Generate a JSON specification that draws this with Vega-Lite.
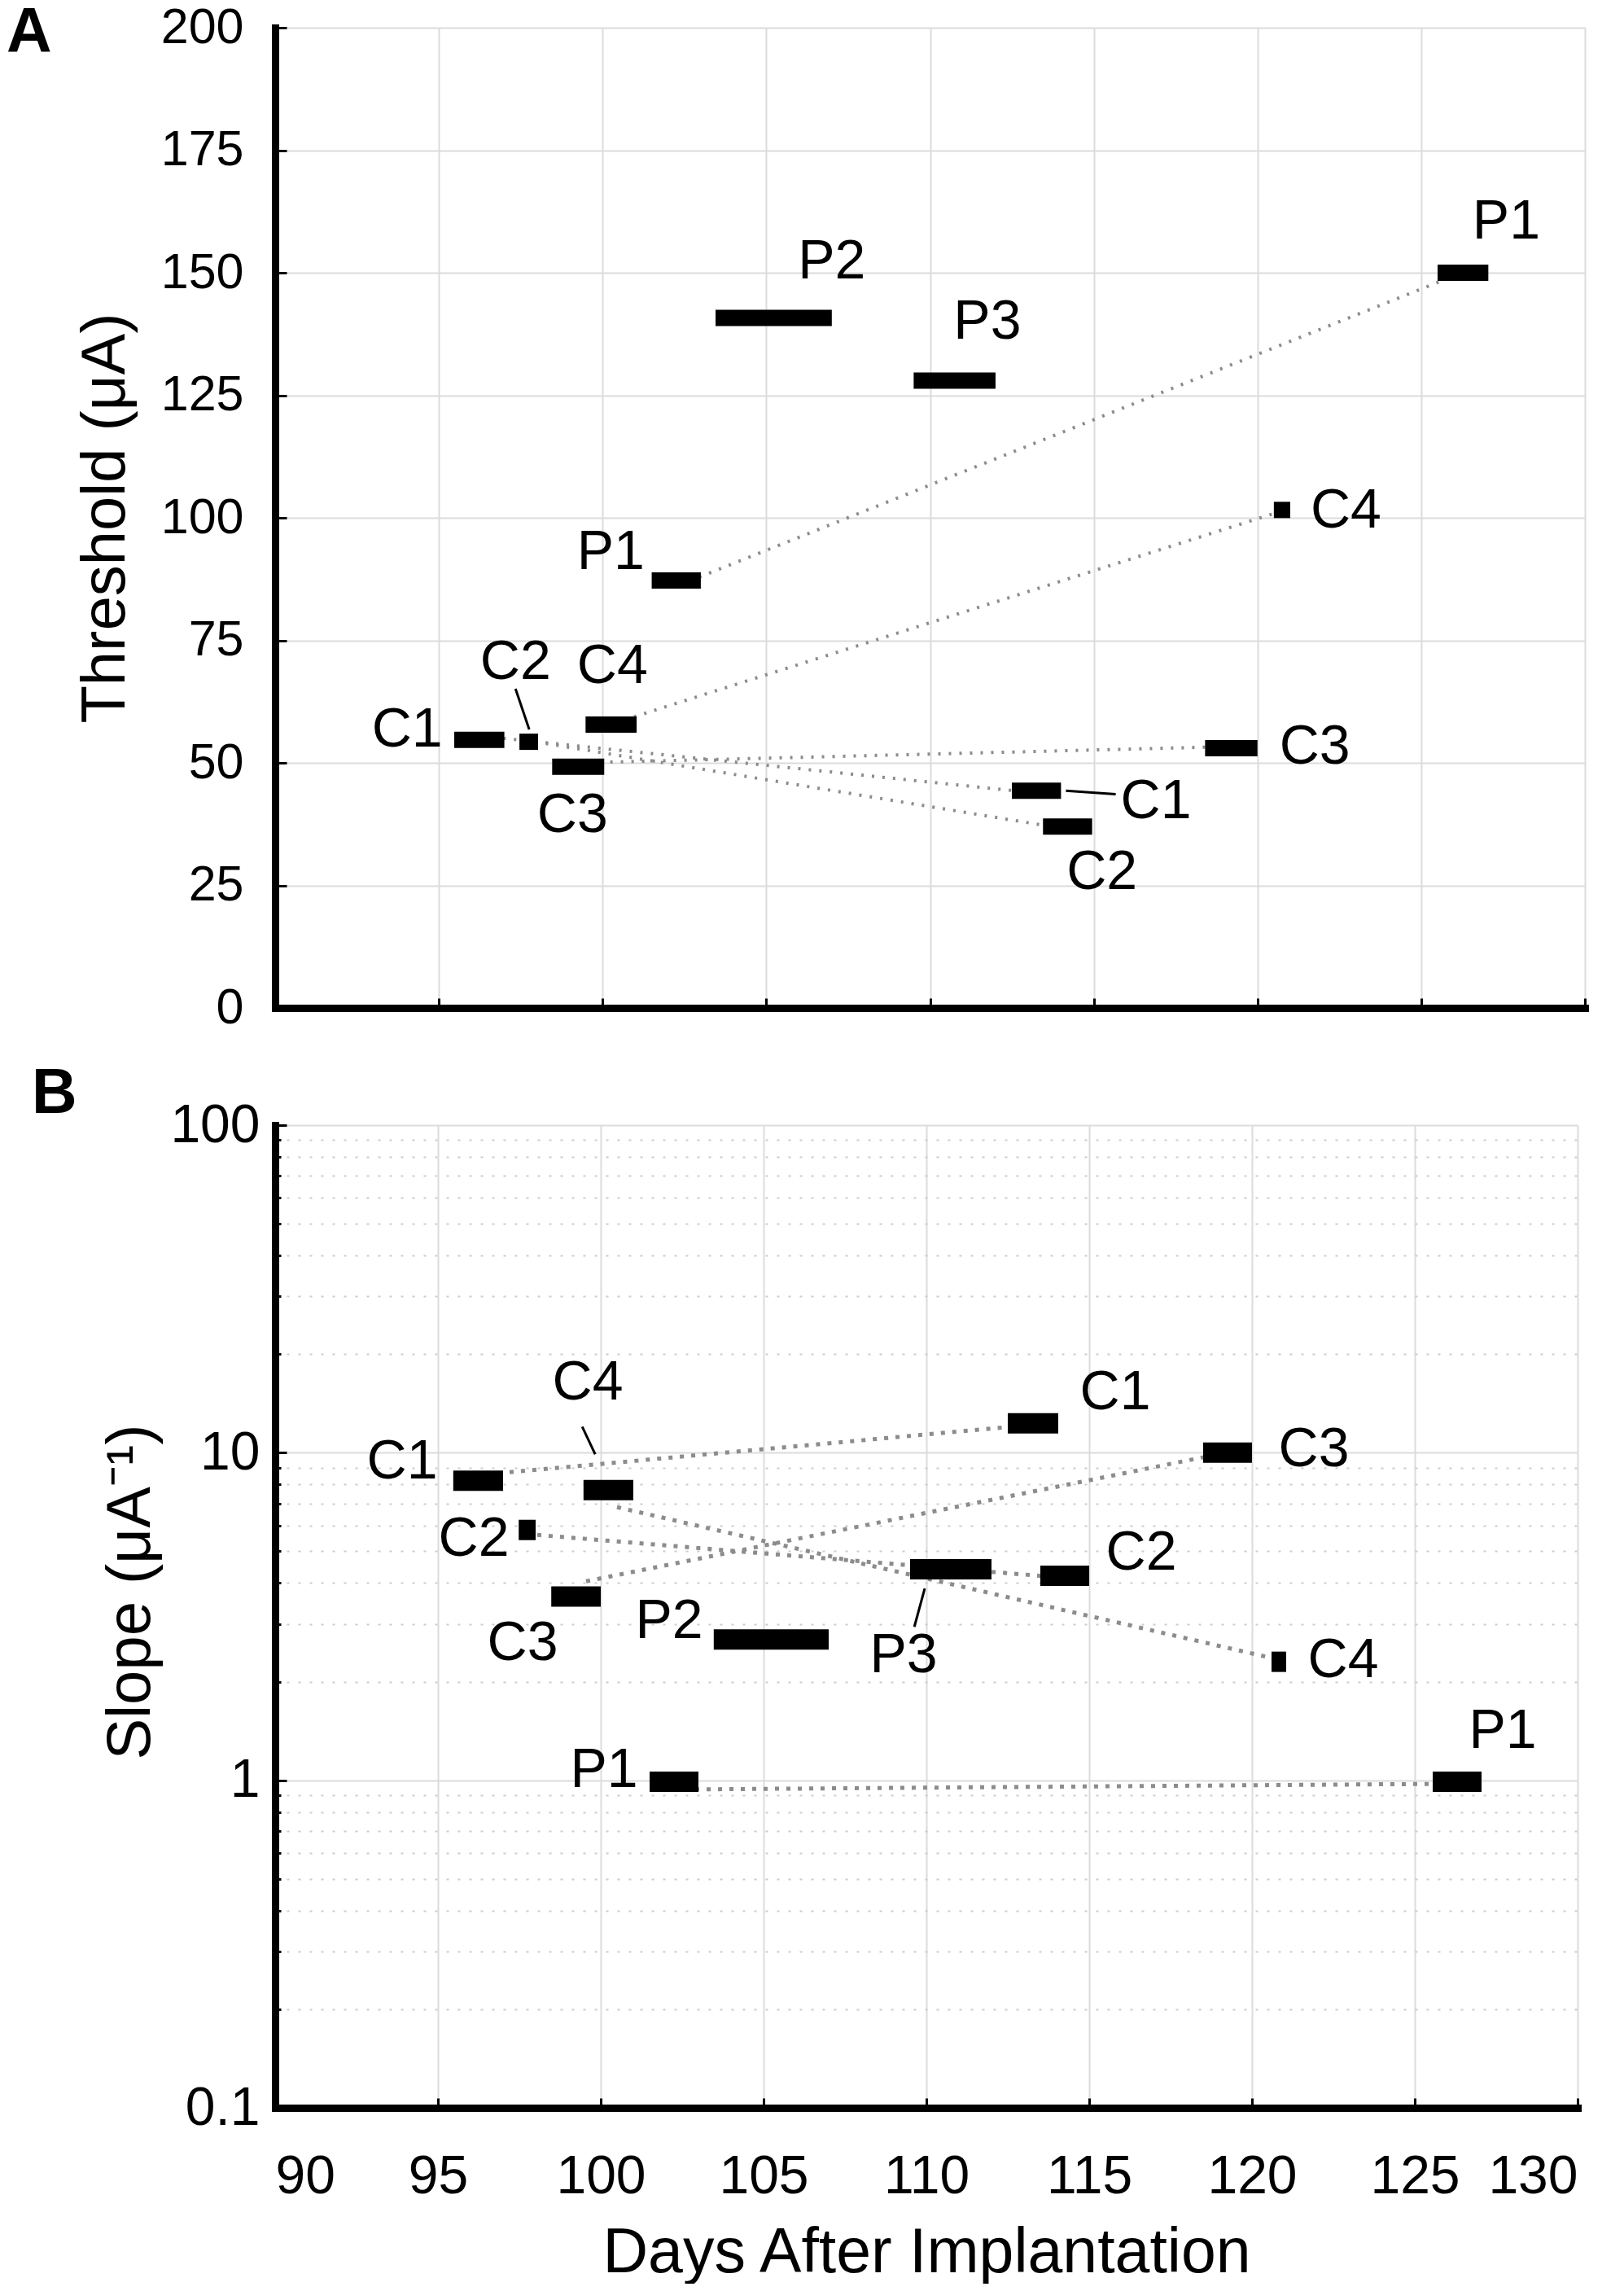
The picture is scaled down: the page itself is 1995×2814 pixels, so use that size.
{
  "$schema": "https://vega.github.io/schema/vega-lite/v6.json",
  "background": "white",
  "padding": {"left": 8, "top": 2, "right": 20, "bottom": 0},
  "spacing": 37,
  "config": {
    "font": "Liberation Sans",
    "view": {"stroke": null},
    "axis": {
      "domainColor": "black",
      "domainWidth": 9,
      "domainCap": "square",
      "tickColor": "black",
      "tickWidth": 3,
      "labelColor": "black",
      "titleColor": "black",
      "titleFontWeight": "normal",
      "gridColor": "#dcdcdc",
      "gridWidth": 2
    },
    "title": {"color": "black", "fontWeight": "bold", "fontSize": 77}
  },
  "datasets": {
    "barsA": [
      {"id": "C1", "start": 95.47, "end": 97.0, "value": 54.7},
      {"id": "C2", "start": 97.46, "end": 98.03, "value": 54.3},
      {"id": "C3", "start": 98.46, "end": 100.05, "value": 49.2},
      {"id": "C4", "start": 99.48, "end": 101.04, "value": 57.8},
      {"id": "P1", "start": 101.5, "end": 103.0, "value": 87.2},
      {"id": "P2", "start": 103.45, "end": 107.0, "value": 140.8},
      {"id": "P3", "start": 109.5, "end": 112.0, "value": 128.0},
      {"id": "C1", "start": 112.5, "end": 114.0, "value": 44.3},
      {"id": "C2", "start": 113.45, "end": 114.95, "value": 37.0},
      {"id": "C3", "start": 118.4, "end": 120.0, "value": 53.0},
      {"id": "C4", "start": 120.5, "end": 121.0, "value": 101.6},
      {"id": "P1", "start": 125.5, "end": 127.05, "value": 150.0}
    ],
    "linesA": [
      {"id": "P1", "day": 102.95, "value": 87.9},
      {"id": "P1", "day": 125.72, "value": 148.6},
      {"id": "C4", "day": 100.96, "value": 59.4},
      {"id": "C4", "day": 120.56, "value": 101.0},
      {"id": "C1", "day": 96.97, "value": 55.0},
      {"id": "C1", "day": 112.58, "value": 44.3},
      {"id": "C2", "day": 97.95, "value": 54.3},
      {"id": "C2", "day": 113.53, "value": 37.2},
      {"id": "C3", "day": 99.91, "value": 50.1},
      {"id": "C3", "day": 118.44, "value": 53.2}
    ],
    "leadersA": [
      {"d0": 97.34, "v0": 65.1, "d1": 97.76, "v1": 56.8},
      {"d0": 114.15, "v0": 44.3, "d1": 115.67, "v1": 43.6}
    ],
    "labelsA": [
      {"text": "C1", "day": 94.03, "value": 56.6},
      {"text": "C2", "day": 97.34, "value": 70.4},
      {"text": "C4", "day": 100.3, "value": 69.6},
      {"text": "C3", "day": 99.08, "value": 39.2},
      {"text": "P1", "day": 100.25, "value": 92.8},
      {"text": "P2", "day": 107.0, "value": 152.2},
      {"text": "P3", "day": 111.75, "value": 139.8},
      {"text": "C1", "day": 116.9, "value": 42.0},
      {"text": "C2", "day": 115.25, "value": 27.5},
      {"text": "C3", "day": 121.75, "value": 53.1},
      {"text": "C4", "day": 122.7, "value": 101.4},
      {"text": "P1", "day": 127.6, "value": 160.3}
    ],
    "barsB": [
      {"id": "C1", "start": 95.47, "end": 97.0, "value": 8.21},
      {"id": "C2", "start": 97.48, "end": 98.0, "value": 5.81},
      {"id": "C3", "start": 98.48, "end": 100.0, "value": 3.64},
      {"id": "C4", "start": 99.47, "end": 101.0, "value": 7.69},
      {"id": "P1", "start": 101.5, "end": 103.0, "value": 0.99},
      {"id": "P2", "start": 103.47, "end": 107.0, "value": 2.69},
      {"id": "P3", "start": 109.5, "end": 112.0, "value": 4.41},
      {"id": "C1", "start": 112.5, "end": 114.05, "value": 12.3},
      {"id": "C2", "start": 113.5, "end": 115.0, "value": 4.21},
      {"id": "C3", "start": 118.5, "end": 120.0, "value": 10.0},
      {"id": "C4", "start": 120.6, "end": 121.05, "value": 2.3},
      {"id": "P1", "start": 125.55, "end": 127.05, "value": 0.99}
    ],
    "linesB": [
      {"id": "C1", "day": 97.2, "value": 8.72},
      {"id": "C1", "day": 112.6, "value": 12.0},
      {"id": "C2", "day": 98.05, "value": 5.61},
      {"id": "C2", "day": 113.6, "value": 4.2},
      {"id": "C3", "day": 99.55, "value": 4.05},
      {"id": "C3", "day": 118.7, "value": 9.77},
      {"id": "C4", "day": 100.5, "value": 6.82},
      {"id": "C4", "day": 120.7, "value": 2.35},
      {"id": "P1", "day": 102.9, "value": 0.938},
      {"id": "P1", "day": 125.7, "value": 0.975}
    ],
    "leadersB": [
      {"d0": 99.43, "v0": 12.0, "d1": 99.83, "v1": 9.89},
      {"d0": 109.95, "v0": 3.85, "d1": 109.63, "v1": 2.94}
    ],
    "labelsB": [
      {"text": "C1", "day": 93.9, "value": 9.34},
      {"text": "C4", "day": 99.6, "value": 16.3},
      {"text": "C2", "day": 96.1, "value": 5.43},
      {"text": "C3", "day": 97.6, "value": 2.61},
      {"text": "P2", "day": 102.1, "value": 3.05},
      {"text": "P3", "day": 109.3, "value": 2.4},
      {"text": "C1", "day": 115.8, "value": 15.2},
      {"text": "C3", "day": 121.9, "value": 10.2},
      {"text": "C2", "day": 116.6, "value": 4.92},
      {"text": "C4", "day": 122.8, "value": 2.32},
      {"text": "P1", "day": 100.1, "value": 1.07},
      {"text": "P1", "day": 127.7, "value": 1.41}
    ]
  },
  "vconcat": [
    {
      "title": {"text": "A", "anchor": "start", "frame": "bounds", "offset": 0, "dy": 77, "dx": -83},
      "width": 1609,
      "height": 1204,
      "layer": [
        {
          "data": {"name": "linesA"},
          "mark": {"type": "line", "color": "#8c8c8c", "strokeWidth": 4, "strokeDash": [3, 10]},
          "encoding": {
            "x": {
              "field": "day", "type": "quantitative",
              "scale": {"domain": [90, 130], "nice": false, "zero": false},
              "axis": {"values": [90, 95, 100, 105, 110, 115, 120, 125, 130], "labels": false, "title": null, "tickSize": -12}
            },
            "y": {
              "field": "value", "type": "quantitative",
              "scale": {"domain": [0, 200], "nice": false},
              "axis": {
                "values": [0, 25, 50, 75, 100, 125, 150, 175, 200],
                "title": "Threshold (μA)", "titleFontSize": 76, "titleX": -209, "titleBaseline": "middle",
                "labelFontSize": 61, "labelPadding": 53, "tickSize": -14
              }
            },
            "detail": {"field": "id"}
          }
        },
        {
          "data": {"name": "barsA"},
          "mark": {"type": "rule", "color": "black", "strokeWidth": 20},
          "encoding": {
            "x": {"field": "start", "type": "quantitative"},
            "x2": {"field": "end"},
            "y": {"field": "value", "type": "quantitative"}
          }
        },
        {
          "data": {"name": "leadersA"},
          "mark": {"type": "rule", "color": "black", "strokeWidth": 3},
          "encoding": {
            "x": {"field": "d0", "type": "quantitative"},
            "x2": {"field": "d1"},
            "y": {"field": "v0", "type": "quantitative"},
            "y2": {"field": "v1"}
          }
        },
        {
          "data": {"name": "labelsA"},
          "mark": {"type": "text", "fontSize": 68, "color": "black", "align": "center", "baseline": "middle"},
          "encoding": {
            "x": {"field": "day", "type": "quantitative"},
            "y": {"field": "value", "type": "quantitative"},
            "text": {"field": "text"}
          }
        }
      ]
    },
    {
      "title": {"text": "B", "anchor": "start", "frame": "bounds", "offset": 0, "dy": 34, "dx": -83},
      "width": 1600,
      "height": 1207,
      "layer": [
        {
          "data": {"name": "linesB"},
          "mark": {"type": "line", "color": "#8c8c8c", "strokeWidth": 5, "strokeDash": [5, 9]},
          "encoding": {
            "x": {
              "field": "day", "type": "quantitative",
              "scale": {"domain": [90, 130], "nice": false, "zero": false},
              "axis": {
                "values": [90, 95, 100, 105, 110, 115, 120, 125, 130],
                "title": "Days After Implantation", "titleFontSize": 77, "titleY": 201, "titleBaseline": "alphabetic",
                "labelFontSize": 66, "labelPadding": 64, "tickSize": -12
              }
            },
            "y": {
              "field": "value", "type": "quantitative",
              "scale": {"type": "log", "domain": [0.1, 100], "nice": false},
              "axis": {
                "values": [0.1, 0.2, 0.3, 0.4, 0.5, 0.6, 0.7, 0.8, 0.9, 1, 2, 3, 4, 5, 6, 7, 8, 9, 10, 20, 30, 40, 50, 60, 70, 80, 90, 100],
                "labelExpr": "indexof([0.1, 1, 10, 100], datum.value) >= 0 ? format(datum.value, '~g') : ''",
                "title": "Slope (μA⁻¹)", "titleFontSize": 76, "titleX": -178, "titleY": 573, "titleBaseline": "middle",
                "labelFontSize": 66, "labelPadding": 33,
                "tickSize": {"condition": {"test": "indexof([0.1, 1, 10, 100], datum.value) >= 0", "value": -14}, "value": -7},
                "gridDash": {"condition": {"test": "indexof([0.1, 1, 10, 100], datum.value) >= 0", "value": []}, "value": [3, 11]},
                "gridColor": {"condition": {"test": "indexof([0.1, 1, 10, 100], datum.value) >= 0", "value": "#dcdcdc"}, "value": "#cccccc"}
              }
            },
            "detail": {"field": "id"}
          }
        },
        {
          "data": {"name": "barsB"},
          "mark": {"type": "rule", "color": "black", "strokeWidth": 25},
          "encoding": {
            "x": {"field": "start", "type": "quantitative"},
            "x2": {"field": "end"},
            "y": {"field": "value", "type": "quantitative"}
          }
        },
        {
          "data": {"name": "leadersB"},
          "mark": {"type": "rule", "color": "black", "strokeWidth": 3},
          "encoding": {
            "x": {"field": "d0", "type": "quantitative"},
            "x2": {"field": "d1"},
            "y": {"field": "v0", "type": "quantitative"},
            "y2": {"field": "v1"}
          }
        },
        {
          "data": {"name": "labelsB"},
          "mark": {"type": "text", "fontSize": 68, "color": "black", "align": "center", "baseline": "middle"},
          "encoding": {
            "x": {"field": "day", "type": "quantitative"},
            "y": {"field": "value", "type": "quantitative"},
            "text": {"field": "text"}
          }
        }
      ]
    }
  ]
}
